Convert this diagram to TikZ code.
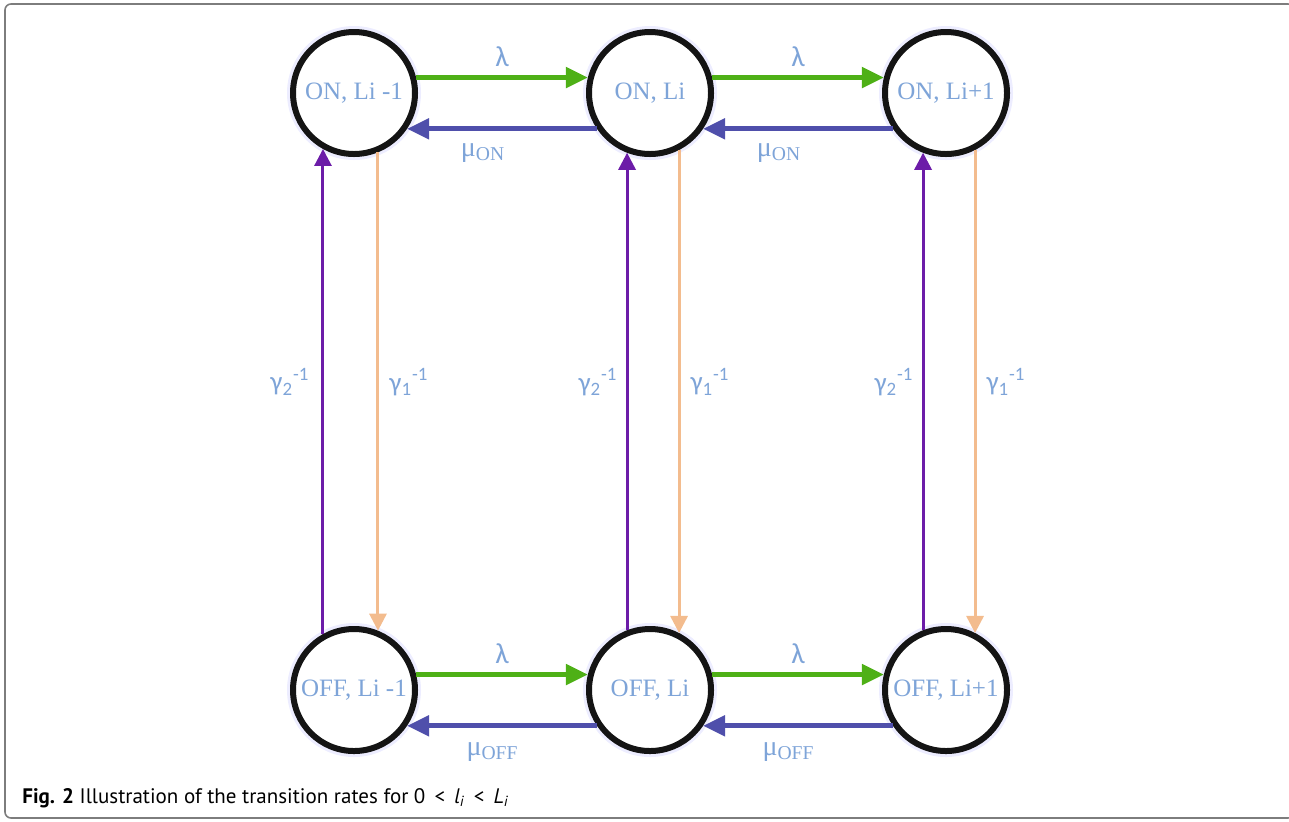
\documentclass[tikz,border=0pt]{standalone}
\usepackage{fontspec}
\setmainfont{Liberation Serif}
\newfontfamily\labelfont{Carlito}
\newfontfamily\capfont{PT Sans}
\usepackage{xcolor}
\usetikzlibrary{positioning, arrows.meta}

\definecolor{rategreen}{RGB}{78,176,22}
\definecolor{rateindigo}{RGB}{79,79,171}
\definecolor{ratepurple}{RGB}{108,28,168}
\definecolor{ratepeach}{RGB}{243,188,142}
\definecolor{labelblue}{RGB}{126,164,216}
\definecolor{framegray}{RGB}{125,125,125}

\begin{document}
\begin{tikzpicture}[
    node distance=234.5pt and 84pt,
    state/.style={circle, draw=black!92, line width=3pt, fill=white, inner sep=0pt, minimum size=61pt, align=center, text=labelblue, font=\fontsize{12.5}{14}\selectfont, preaction={draw=blue!7, line width=6pt}},
    fwd/.style={-{Triangle[length=11pt, width=10pt]}, line width=2.5pt, draw=rategreen},
    bwd/.style={-{Triangle[length=11pt, width=10pt]}, line width=2.5pt, draw=rateindigo},
    upar/.style={-{Triangle[length=8.5pt, width=8.5pt]}, line width=1.5pt, draw=ratepurple},
    downar/.style={-{Triangle[length=8.5pt, width=8.5pt]}, line width=1.5pt, draw=ratepeach},
    rate/.style={text=labelblue, font=\labelfont\fontsize{13.5}{15}\selectfont, inner sep=1pt},
    lam/.style={text=labelblue, font=\labelfont\fontsize{14.5}{16}\selectfont, inner sep=1pt},
    mu/.style={text=labelblue, font=\fontsize{14}{16}\selectfont, inner sep=1pt}
]
    \useasboundingbox (0,0) rectangle (644.5pt,-410.5pt);
    \draw [framegray, line width=0.8pt, rounded corners=3pt] (2.5pt,-2pt) rectangle (647pt,-409pt);

    % states
    \node [state] (onA) at (177pt,-46.5pt) {ON, Li -1};
    \node [state, right=of onA] (onB) {ON, Li};
    \node [state, right=of onB] (onC) {ON, Li+1};
    \node [state, below=of onA] (offA) {OFF, Li -1};
    \node [state, below=of onB] (offB) {OFF, Li};
    \node [state, below=of onC] (offC) {OFF, Li+1};

    % horizontal rates
    \draw [fwd] (onA.14) -- (onB.166) node [midway, above=3pt, lam] {λ};
    \draw [fwd] (onB.14) -- (onC.166) node [midway, above=3pt, lam] {λ};
    \draw [bwd] (onB.214) -- (onA.326) node [pos=0.6, below=5pt, mu] {μ\textsubscript{ON}};
    \draw [bwd] (onC.214) -- (onB.326) node [pos=0.6, below=5pt, mu] {μ\textsubscript{ON}};
    \draw [fwd] (offA.14) -- (offB.166) node [midway, above=3pt, lam] {λ};
    \draw [fwd] (offB.14) -- (offC.166) node [midway, above=3pt, lam] {λ};
    \draw [bwd] (offB.214) -- (offA.326) node [pos=0.55, below=6pt, mu] {μ\textsubscript{OFF}};
    \draw [bwd] (offC.214) -- (offB.326) node [pos=0.55, below=6pt, mu] {μ\textsubscript{OFF}};

    % vertical rates
    \draw [upar] (offA.119) -- (onA.241) node [pos=0.52, left=5pt, rate] {γ\textsubscript{2}\textsuperscript{-1}};
    \draw [downar] (onA.292) -- (offA.68) node [pos=0.48, right=4pt, rate] {γ\textsubscript{1}\textsuperscript{-1}};
    \draw [upar] (offB.111) -- (onB.249) node [pos=0.52, left=3pt, rate] {γ\textsubscript{2}\textsuperscript{-1}};
    \draw [downar] (onB.297) -- (offB.63) node [pos=0.48, right=4pt, rate] {γ\textsubscript{1}\textsuperscript{-1}};
    \draw [upar] (offC.111) -- (onC.249) node [pos=0.52, left=3pt, rate] {γ\textsubscript{2}\textsuperscript{-1}};
    \draw [downar] (onC.297) -- (offC.63) node [pos=0.48, right=4pt, rate] {γ\textsubscript{1}\textsuperscript{-1}};

    % caption
    \node [anchor=base west, inner sep=0pt, font=\capfont\fontsize{10.5}{12}\selectfont] (cap) at (11pt,-401.5pt) {\textbf{Fig. 2} Illustration of the transition rates for 0 \,<\, \textit{l\textsubscript{i}} \,<\, \textit{L\textsubscript{i}}};
\end{tikzpicture}
\end{document}
